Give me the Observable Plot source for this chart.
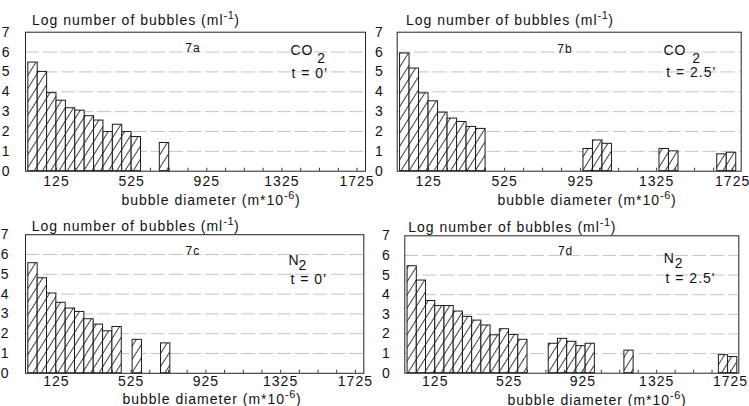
<!DOCTYPE html>
<html><head><meta charset="utf-8">
<script src="https://cdn.jsdelivr.net/npm/d3@7"></script>
<script src="https://cdn.jsdelivr.net/npm/@observablehq/plot@0.6"></script>
<style>
body{margin:0;background:#fff;}
#wrap{position:relative;width:749px;height:406px;overflow:hidden;font-family:"Liberation Sans",Arial,sans-serif;color:#111;}
.panel{position:absolute;}
.lbl{position:absolute;font-size:14px;letter-spacing:1px;white-space:nowrap;line-height:1;}
.lbl sup{font-size:11px;vertical-align:0;position:relative;top:-6px;letter-spacing:0.5px;}
.xl{transform:translateX(-50%);}
</style></head><body><div id="wrap"></div>
<script>
// ---- data ----
const xTicks = [125, 525, 925, 1325, 1725];
const minorTicks = [125, 225, 325, 425, 525, 625, 725, 825, 925, 1025, 1125, 1225, 1325, 1425, 1525, 1625, 1725];
const yTicks = [0, 1, 2, 3, 4, 5, 6, 7];
const gridY = [1, 2, 3, 4, 5, 6];
const BIN = 50;
const panelIds = ["7a", "7b", "7c", "7d"];
const gases = ["CO", "CO", "N", "N"];
const gasSub = ["2", "2", "2", "2"];
const times = ["t = 0'", "t = 2.5'", "t = 0'", "t = 2.5'"];
const yTitle = "Log number of bubbles (ml";
const yTitleSup = "-1";
const xTitle = "bubble diameter (m*10";
const xTitleSup = "-6";

// diameter bin centres and log counts per panel
const centersA = [0, 50, 100, 150, 200, 250, 300, 350, 400, 450, 500, 550, 700];
const valuesA  = [5.47, 5.0, 3.93, 3.55, 3.17, 3.05, 2.77, 2.55, 1.97, 2.34, 1.97, 1.72, 1.42];
const centersB = [0, 50, 100, 150, 200, 250, 300, 350, 400, 965, 1015, 1065, 1365, 1415, 1669, 1719];
const valuesB  = [5.93, 5.17, 3.92, 3.52, 2.95, 2.65, 2.48, 2.23, 2.13, 1.12, 1.55, 1.38, 1.12, 1.0, 0.85, 0.93];
const centersC = [0, 50, 100, 150, 200, 250, 300, 350, 400, 450, 558, 710];
const valuesC  = [5.56, 4.8, 4.03, 3.56, 3.27, 3.1, 2.73, 2.46, 2.12, 2.34, 1.69, 1.51];
const centersD = [0, 50, 100, 150, 200, 250, 300, 350, 400, 450, 500, 550, 600, 765, 815, 865, 915, 965, 1175, 1687, 1737];
const valuesD  = [5.45, 4.72, 3.68, 3.42, 3.42, 3.14, 2.87, 2.68, 2.43, 1.93, 2.24, 1.95, 1.7, 1.5, 1.75, 1.6, 1.38, 1.5, 1.15, 0.92, 0.82];

const series = [[centersA, valuesA], [centersB, valuesB], [centersC, valuesC], [centersD, valuesD]];

// ---- layout (positions/styles only) ----
const layout = [
  {left:0,   top:0,   w:375, h:200, mt:31.7, mb:29.3, ml:25,   mr:10,   yPad:15, xPad:4.5, id:[-2.5,11.3], gas:[-75,12.5], sub:[-48.3,20.5], time:[-74,35.5],
   title:[32,13], xl:[211,192.5]},
  {left:375, top:0,   w:374, h:200, mt:31.7, mb:29.3, ml:21.7, mr:8.3,  yPad:13.5, xPad:4.5, id:[-4.2,12.3], gas:[-77.7,12.5], sub:[-49,20.5], time:[-75,35],
   title:[406,13], xl:[587,193]},
  {left:0,   top:200, w:375, h:206, mt:34.2, mb:33.2, ml:25,   mr:11.7, yPad:16, xPad:3, id:[-1.7,12], gas:[-75.3,20], sub:[-65.3,25], time:[-73.3,39.5],
   title:[31.7,218.7], xl:[212,392]},
  {left:375, top:200, w:374, h:206, mt:35.3, mb:33.3, ml:29.3, mr:10.7, yPad:14, xPad:3, id:[-6.2,10.5], gas:[-75,17.5], sub:[-64,22.5], time:[-73.3,37],
   title:[408.3,219.7], xl:[597,392.5]}
];

const wrap = document.getElementById("wrap");

series.forEach(([centers, values], i) => {
  const L = layout[i];
  const data = centers.map((c, k) => ({c, v: values[k]}));
  const pid = "hatch" + i;
  const svg = Plot.plot({
    width: L.w, height: L.h,
    marginTop: L.mt, marginBottom: L.mb, marginLeft: L.ml, marginRight: L.mr,
    style: {fontFamily: "Liberation Sans, Arial, sans-serif", fontSize: "14px", letterSpacing: "1px", color: "#111", background: "transparent"},
    x: {domain: [-40, 1770], ticks: xTicks, tickFormat: d => `${d}`, tickSize: 0, tickPadding: L.xPad, label: null},
    y: {domain: [0, 7], ticks: yTicks, tickFormat: d => `${d}`, tickSize: 0, tickPadding: L.yPad, label: null},
    marks: [
      Plot.ruleY(gridY, {y: d => d, stroke: "#c4c4c4", strokeWidth: 1, strokeDasharray: "14,4"}),
      Plot.rect(data, {x1: d => d.c - BIN / 2, x2: d => d.c + BIN / 2, y1: 0, y2: "v",
        fill: `url(#${pid})`, stroke: "#1a1a1a", strokeWidth: 1}),
      Plot.ruleX(minorTicks, {x: d => d, y1: 0, y2: 0.15, stroke: "#333"}),
      Plot.frame({stroke: "#222", strokeWidth: 1}),
      Plot.text([panelIds[i]], {text: d => d, frameAnchor: "top", dx: L.id[0], dy: L.id[1], fontSize: 12}),
      Plot.text([gases[i]], {text: d => d, frameAnchor: "top-right", textAnchor: "start", dx: L.gas[0], dy: L.gas[1], fontSize: 14}),
      Plot.text([gasSub[i]], {text: d => d, frameAnchor: "top-right", textAnchor: "start", dx: L.sub[0], dy: L.sub[1], fontSize: 14}),
      Plot.text([times[i]], {text: d => d, frameAnchor: "top-right", textAnchor: "start", dx: L.time[0], dy: L.time[1], fontSize: 14})
    ]
  });
  d3.select(svg).insert("defs", ":first-child").html(
    `<pattern id="${pid}" patternUnits="userSpaceOnUse" width="7" height="7" patternTransform="rotate(32)">
       <rect width="7" height="7" fill="white"/>
       <line x1="0.5" y1="0" x2="0.5" y2="7" stroke="#2a2a2a" stroke-width="0.9"/>
     </pattern>`);
  svg.classList.add("panel");
  svg.style.left = L.left + "px";
  svg.style.top = L.top + "px";
  wrap.appendChild(svg);

  const t = document.createElement("div");
  t.className = "lbl";
  t.style.left = L.title[0] + "px";
  t.style.top = L.title[1] + "px";
  t.innerHTML = `${yTitle}<sup>${yTitleSup}</sup>)`;
  wrap.appendChild(t);

  const xl = document.createElement("div");
  xl.className = "lbl xl";
  xl.style.left = L.xl[0] + "px";
  xl.style.top = L.xl[1] + "px";
  xl.innerHTML = `${xTitle}<sup>${xTitleSup}</sup>)`;
  wrap.appendChild(xl);
});
</script>
</body></html>
